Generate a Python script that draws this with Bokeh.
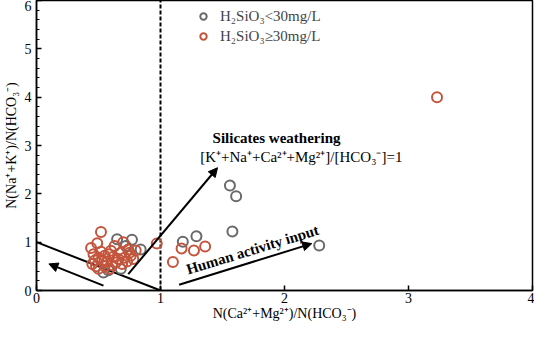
from bokeh.plotting import figure
from bokeh.models import (Range1d, SingleIntervalTicker, Arrow, NormalHead, Label,
                          Legend, LegendItem)
from bokeh.embed import file_html
from bokeh.resources import INLINE

FONT = "Liberation Serif"

# ---- data ----
low_x = [0.65, 0.77, 0.54, 0.68, 0.84, 0.72, 0.58, 1.18, 1.29, 1.56, 1.61, 1.58, 2.28]
low_y = [1.06, 1.05, 0.37, 0.45, 0.85, 0.92, 0.42, 1.01, 1.12, 2.17, 1.95, 1.22, 0.93]

high_x = [0.52, 0.49, 0.44, 0.46, 0.47, 0.45, 0.50, 0.52, 0.55, 0.57, 0.55, 0.60,
          0.62, 0.63, 0.64, 0.66, 0.68, 0.70, 0.71, 0.73, 0.74, 0.76, 0.78, 0.80,
          0.59, 0.50, 0.48, 0.53, 0.58, 0.69, 0.61, 0.75,
          0.97, 1.10, 1.17, 1.27, 1.36, 3.23]
high_y = [1.21, 0.98, 0.88, 0.75, 0.62, 0.55, 0.68, 0.80, 0.72, 0.60, 0.50, 0.82,
          0.70, 0.92, 0.58, 0.65, 0.78, 1.00, 0.68, 0.60, 0.85, 0.72, 0.65, 0.83,
          0.45, 0.45, 0.50, 0.62, 0.75, 0.55, 0.52, 0.78,
          0.97, 0.59, 0.87, 0.83, 0.91, 4.00]

legend_labels = ["H\u2082SiO\u2083<30mg/L", "H\u2082SiO\u2083\u226530mg/L"]
x_ticks = [0, 1, 2, 3, 4]

# reference lines
ref_line_x = [0, 1]
ref_line_y = [1, 0]
dash_x = [1, 1]
dash_y = [0, 6]

# arrows: (x_start, y_start, x_end, y_end)
arrows = [
    (0.54, 0.10, 0.10, 0.55),
    (0.74, 0.34, 1.46, 2.54),
    (1.15, 0.12, 2.22, 0.97),
]

p = figure(width=534, height=323, output_backend="svg", toolbar_location=None,
           x_range=Range1d(0, 4), y_range=Range1d(0, 6),
           min_border_left=32, min_border_right=2, min_border_top=0, min_border_bottom=30)
p.background_fill_color = "white"
p.border_fill_color = "white"
p.outline_line_color = "black"
p.outline_line_width = 1.5
p.grid.visible = False

# axes
p.xaxis.ticker = x_ticks
p.yaxis.ticker = SingleIntervalTicker(interval=1, num_minor_ticks=5)
for ax in (p.xaxis, p.yaxis):
    ax.axis_line_color = "black"
    ax.axis_line_width = 1.5
    ax.major_tick_in = 5
    ax.major_tick_out = 0
    ax.major_tick_line_width = 1.5
    ax.major_label_text_font = FONT
    ax.major_label_text_font_size = "14px"
    ax.major_label_text_color = "black"
    ax.axis_label_text_font = FONT
    ax.axis_label_text_font_size = "14px"
    ax.axis_label_text_font_style = "normal"
    ax.axis_label_text_color = "black"
p.xaxis.minor_tick_line_color = None
p.yaxis.minor_tick_in = 3
p.yaxis.minor_tick_out = 0
p.yaxis.minor_tick_line_width = 1.2
p.xaxis.major_label_standoff = 2
p.yaxis.major_label_standoff = 5
p.xaxis.axis_label_standoff = 0
p.yaxis.axis_label_standoff = 3
p.xaxis.axis_label = "N(Ca\u00b2\u207a+Mg\u00b2\u207a)/N(HCO\u2083\u207b)"
p.yaxis.axis_label = "N(Na\u207a+K\u207a)/N(HCO\u2083\u207b)"

# lines
p.line(dash_x, dash_y, line_color="black", line_width=2, line_dash="4 2")
p.line(ref_line_x, ref_line_y, line_color="black", line_width=2)
for xs, ys, xe, ye in arrows:
    p.add_layout(Arrow(end=NormalHead(size=9, fill_color="black", line_color="black"),
                       x_start=xs, y_start=ys, x_end=xe, y_end=ye,
                       line_color="black", line_width=2))

# points
r_low = p.scatter(low_x, low_y, marker="circle", size=10, fill_color=None,
                  line_color="#6a6a6a", line_width=2)
r_high = p.scatter(high_x, high_y, marker="circle", size=10, fill_color=None,
                   line_color="#c4553c", line_width=2)

# annotations
p.add_layout(Label(x=1.42, y=3.15, text="Silicates weathering", text_font=FONT,
                   text_font_size="15px", text_font_style="bold", text_color="black",
                   text_baseline="middle"))
p.add_layout(Label(x=1.32, y=2.76, text="[K\u207a+Na\u207a+Ca\u00b2\u207a+Mg\u00b2\u207a]/[HCO\u2083\u207b]=1",
                   text_font=FONT, text_font_size="15px", text_color="black",
                   text_baseline="middle"))
p.add_layout(Label(x=1.23, y=0.27, text="Human activity input", text_font=FONT,
                   text_font_size="15px", text_font_style="bold", text_color="black",
                   angle=17, angle_units="deg", text_baseline="bottom"))

legend = Legend(items=[LegendItem(label=legend_labels[0], renderers=[r_low]),
                       LegendItem(label=legend_labels[1], renderers=[r_high])],
                location=(159, 244), padding=0, margin=0, spacing=0,
                glyph_width=16, glyph_height=20, label_height=20, label_standoff=9,
                label_text_font=FONT, label_text_font_size="15px",
                background_fill_alpha=0, border_line_color=None)
p.add_layout(legend)

open("out.html", "w").write(file_html(p, INLINE))
